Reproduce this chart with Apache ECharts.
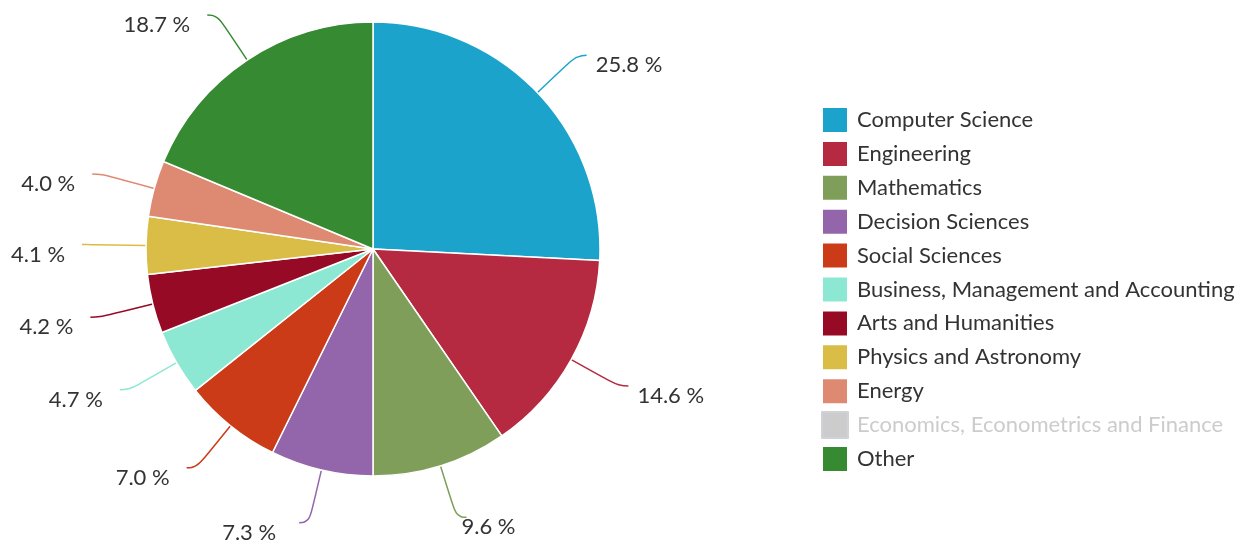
<!DOCTYPE html>
<html>
<head>
<meta charset="utf-8">
<script src="https://cdn.jsdelivr.net/npm/echarts@6/dist/echarts.min.js"></script>
<style>
  html, body { margin: 0; padding: 0; background: #fff; }
  #chart { width: 1256px; height: 546px; }
</style>
</head>
<body>
<div id="chart"></div>
<script>
const categories = [
  'Computer Science', 'Engineering', 'Mathematics', 'Decision Sciences',
  'Social Sciences', 'Business, Management and Accounting', 'Arts and Humanities',
  'Physics and Astronomy', 'Energy', 'Economics, Econometrics and Finance', 'Other'
]
const shares = [25.8, 14.6, 9.6, 7.3, 7.0, 4.7, 4.2, 4.1, 4.0, 3.8, 18.7]
const colors = [
  '#1ba3cc', '#b52a40', '#7f9e5a', '#9366ab', '#cc3b17', '#8de8d3',
  '#970a26', '#d9bd47', '#de8a73', '#cccccc', '#368a31'
]
// hidden in the legend
const hidden = ['Economics, Econometrics and Finance']

const myChart = echarts.init(document.getElementById('chart'))

const selected = {}
hidden.forEach(n => { selected[n] = false })

const option = {
  animation: false,
  color: colors,
  textStyle: { fontFamily: 'Lato' },
  legend: {
    orient: 'vertical',
    left: 821,
    top: 106,
    padding: 0,
    itemWidth: 26,
    itemHeight: 26,
    itemGap: 5.9,
    icon: 'rect',
    selected: selected,
    inactiveColor: '#cccccc',
    textStyle: { fontSize: 22, color: '#333', lineHeight: 20, padding: [8, 0, 0, 4] },
    data: categories
  },
  series: [
    {
      type: 'pie',
      center: [373, 249],
      radius: 227,
      startAngle: 90,
      clockwise: true,
      itemStyle: { borderColor: '#fff', borderWidth: 1.5 },
      label: {
        show: true,
        formatter: p => p.value.toFixed(1) + ' %',
        fontSize: 22,
        color: '#333',
        fontFamily: 'Lato',
        distanceToLabelLine: 9
      },
      labelLine: {
        show: true,
        length: 54,
        length2: 10,
        smooth: 0.5,
        lineStyle: { width: 1.5 }
      },
      // labels sit a bit below the line ends, further out on the left / bottom
      labelLayout: p => {
        const r = p.labelRect
        let dx = 0
        if (r.y > 480) dx = -14
        else if (r.x < 373) dx = -8
        return { dx: dx, dy: 10 }
      },
      emphasis: { disabled: true },
      data: categories.map((n, i) => ({ name: n, value: shares[i] }))
    }
  ]
}

myChart.setOption(option)
</script>
</body>
</html>
